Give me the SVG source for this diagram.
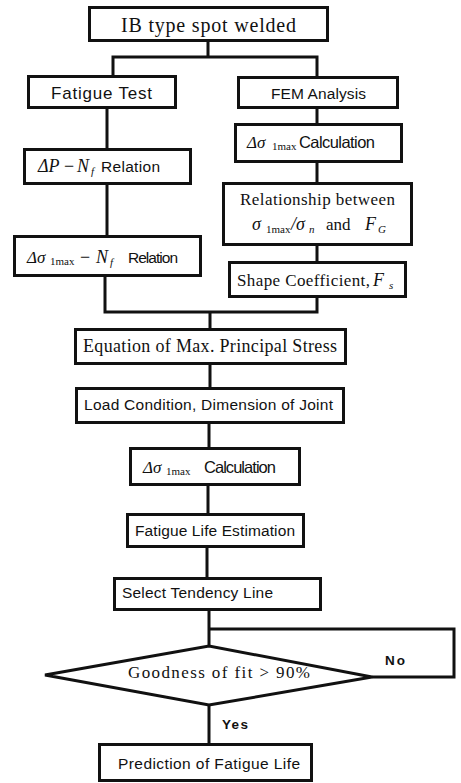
<svg xmlns="http://www.w3.org/2000/svg" width="461" height="783" viewBox="0 0 461 783">
<style>
.box{fill:#fff;stroke:#111;stroke-width:3}
.con{fill:none;stroke:#111;stroke-width:3}
.se{font-family:"Liberation Serif","Times New Roman",serif;fill:#111}
.sa{font-family:"Liberation Sans",Arial,sans-serif;fill:#111}
.it{font-style:italic}
.b{font-weight:bold}
</style>
<rect width="461" height="783" fill="#fff"/>
<g id="connectors">
<path class="con" d="M208 41V57M113 75V57H317V76"/>
<path class="con" d="M107 109V148M107 185V235"/>
<path class="con" d="M105 277V312H317V298"/>
<path class="con" d="M317 109V123M317 163V182M317 246V261"/>
<path class="con" d="M210 312V328M210 365V387M209 424V447M208 486V513M207 548V577M209 611V646"/>
<path class="con" d="M209 629H454V677H372"/>
<path class="con" d="M209 705V743"/>
</g>
<g id="n_ib"><rect class="box" x="89.5" y="7.5" width="238" height="33"/>
<text class="se" x="121" y="32" font-size="20" textLength="175" lengthAdjust="spacing">IB type spot welded</text></g>
<g id="n_fatigue"><rect class="box" x="28.5" y="76.5" width="147" height="31"/>
<text class="sa" x="51" y="99" font-size="17" textLength="101" lengthAdjust="spacing">Fatigue Test</text></g>
<g id="n_fem"><rect class="box" x="238.5" y="77.5" width="159" height="30"/>
<text class="sa" x="271" y="99" font-size="15.5" textLength="95" lengthAdjust="spacing">FEM Analysis</text></g>
<g id="n_calc1"><rect class="box" x="235.5" y="124.5" width="166" height="37"/>
<text class="se it" x="247" y="148" font-size="17">Δσ</text>
<text class="se" x="272" y="150" font-size="11">1max</text>
<text class="sa" x="299" y="148" font-size="16.5" textLength="76" lengthAdjust="spacing">Calculation</text></g>
<g id="n_dpnf"><rect class="box" x="24.5" y="149.5" width="166" height="34"/>
<text class="se it" x="38" y="172" font-size="18">ΔP</text>
<text class="se" x="64" y="172" font-size="18">−</text>
<text class="se it" x="77" y="172" font-size="18">N</text>
<text class="se it" x="91" y="175" font-size="11">f</text>
<text class="sa" x="101" y="172" font-size="15.5" textLength="59" lengthAdjust="spacing">Relation</text></g>
<g id="n_rel"><rect class="box" x="223.5" y="183.5" width="188" height="61"/>
<text class="se" x="240" y="205" font-size="17" textLength="155" lengthAdjust="spacing">Relationship between</text>
<text class="se it" x="252" y="230" font-size="18">σ</text>
<text class="se" x="266" y="233" font-size="11">1max</text>
<text class="se it" x="291" y="230" font-size="18">/σ</text>
<text class="se it" x="309" y="233" font-size="11">n</text>
<text class="se" x="326" y="230" font-size="17">and</text>
<text class="se it" x="365" y="230" font-size="18">F</text>
<text class="se it" x="378" y="233" font-size="11">G</text></g>
<g id="n_shape"><rect class="box" x="229.5" y="262.5" width="176" height="34"/>
<text class="se" x="237" y="286" font-size="17" textLength="133" lengthAdjust="spacing">Shape Coefficient,</text>
<text class="se it" x="373" y="286" font-size="18">F</text>
<text class="se it" x="389" y="289" font-size="11">s</text></g>
<g id="n_dsnf"><rect class="box" x="14.5" y="236.5" width="186" height="39"/>
<text class="se it" x="27" y="263" font-size="17">Δσ</text>
<text class="se" x="50" y="265" font-size="11">1max</text>
<text class="se" x="80" y="263" font-size="18">−</text>
<text class="se it" x="96" y="263" font-size="18">N</text>
<text class="se it" x="110" y="266" font-size="11">f</text>
<text class="sa" x="128" y="263" font-size="15.5" textLength="50" lengthAdjust="spacing">Relation</text></g>
<g id="n_eq"><rect class="box" x="75.5" y="329.5" width="270" height="34"/>
<text class="se" x="83" y="352" font-size="18" textLength="254" lengthAdjust="spacing">Equation of Max. Principal Stress</text></g>
<g id="n_load"><rect class="box" x="76.5" y="388.5" width="267" height="34"/>
<text class="sa" x="84" y="410" font-size="15.5" textLength="249" lengthAdjust="spacing">Load Condition, Dimension of Joint</text></g>
<g id="n_calc2"><rect class="box" x="130.5" y="448.5" width="169" height="36"/>
<text class="se it" x="143" y="473" font-size="17">Δσ</text>
<text class="se" x="166" y="475" font-size="11">1max</text>
<text class="sa" x="204" y="473" font-size="16.5" textLength="72" lengthAdjust="spacing">Calculation</text></g>
<g id="n_fle"><rect class="box" x="127.5" y="514.5" width="176" height="32"/>
<text class="sa" x="135" y="536" font-size="15.5" textLength="160" lengthAdjust="spacing">Fatigue Life Estimation</text></g>
<g id="n_select"><rect class="box" x="114.5" y="578.5" width="206" height="31"/>
<text class="sa" x="122" y="598" font-size="15.5" textLength="151" lengthAdjust="spacing">Select Tendency Line</text></g>
<g id="n_goodness"><polygon class="box" points="45,675 209,646 372,677 209,705"/>
<text class="se" x="128" y="678" font-size="17" textLength="182" lengthAdjust="spacing">Goodness of fit &gt; 90%</text></g>
<g id="labels">
<text class="sa b" x="385" y="665" font-size="13.5" textLength="20" lengthAdjust="spacing">No</text>
<text class="sa b" x="222" y="729" font-size="13.5" textLength="26" lengthAdjust="spacing">Yes</text>
</g>
<g id="n_pred"><rect class="box" x="99.5" y="744.5" width="212" height="36"/>
<text class="sa" x="118" y="769" font-size="15.5" textLength="182" lengthAdjust="spacing">Prediction of Fatigue Life</text></g>
</svg>
